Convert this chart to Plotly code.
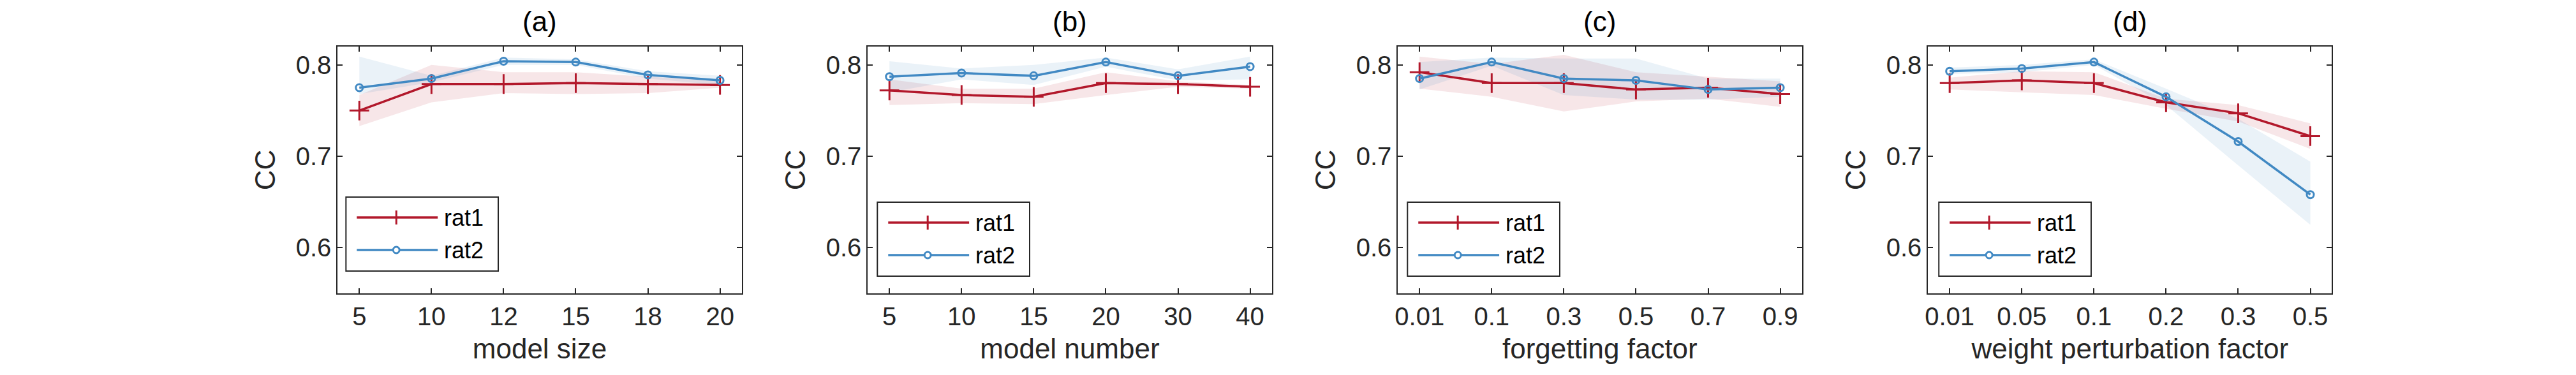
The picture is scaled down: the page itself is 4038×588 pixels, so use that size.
import plotly.graph_objects as go

# ---------------- data ----------------
titles = ["(a)", "(b)", "(c)", "(d)"]
xlabels = ["model size", "model number", "forgetting factor", "weight perturbation factor"]
series_names = ["rat1", "rat2"]

cats_a = ["5", "10", "12", "15", "18", "20"]
cats_b = ["5", "10", "15", "20", "30", "40"]
cats_c = ["0.01", "0.1", "0.3", "0.5", "0.7", "0.9"]
cats_d = ["0.01", "0.05", "0.1", "0.2", "0.3", "0.5"]

rat1_a = [0.750, 0.779, 0.779, 0.780, 0.779, 0.778]
rat1_a_hi = [0.767, 0.800, 0.792, 0.792, 0.787, 0.783]
rat1_a_lo = [0.733, 0.759, 0.769, 0.768, 0.769, 0.775]
rat2_a = [0.775, 0.785, 0.804, 0.803, 0.789, 0.783]
rat2_a_hi = [0.809, 0.788, 0.808, 0.806, 0.793, 0.788]
rat2_a_lo = [0.768, 0.781, 0.800, 0.800, 0.785, 0.778]

rat1_b = [0.772, 0.767, 0.765, 0.780, 0.779, 0.776]
rat1_b_hi = [0.784, 0.774, 0.774, 0.792, 0.782, 0.778]
rat1_b_lo = [0.756, 0.758, 0.757, 0.767, 0.776, 0.774]
rat2_b = [0.787, 0.791, 0.788, 0.803, 0.788, 0.798]
rat2_b_hi = [0.804, 0.796, 0.800, 0.808, 0.795, 0.809]
rat2_b_lo = [0.770, 0.784, 0.778, 0.798, 0.783, 0.784]

rat1_c = [0.792, 0.780, 0.780, 0.773, 0.775, 0.768]
rat1_c_hi = [0.809, 0.801, 0.811, 0.792, 0.787, 0.782]
rat1_c_lo = [0.774, 0.765, 0.749, 0.760, 0.763, 0.754]
rat2_c = [0.785, 0.803, 0.785, 0.783, 0.773, 0.775]
rat2_c_hi = [0.803, 0.808, 0.807, 0.807, 0.785, 0.785]
rat2_c_lo = [0.773, 0.799, 0.767, 0.762, 0.762, 0.765]

rat1_d = [0.780, 0.783, 0.780, 0.759, 0.747, 0.722]
rat1_d_hi = [0.786, 0.793, 0.792, 0.763, 0.756, 0.736]
rat1_d_lo = [0.773, 0.770, 0.767, 0.752, 0.738, 0.708]
rat2_d = [0.793, 0.796, 0.803, 0.765, 0.716, 0.658]
rat2_d_hi = [0.797, 0.800, 0.806, 0.774, 0.741, 0.694]
rat2_d_lo = [0.790, 0.792, 0.800, 0.756, 0.690, 0.625]

y_ticks = [0.6, 0.7, 0.8]
y_ticktext = ["0.6", "0.7", "0.8"]
y_range = [0.55, 0.82]

panels = [
    (cats_a, rat1_a, rat1_a_hi, rat1_a_lo, rat2_a, rat2_a_hi, rat2_a_lo),
    (cats_b, rat1_b, rat1_b_hi, rat1_b_lo, rat2_b, rat2_b_hi, rat2_b_lo),
    (cats_c, rat1_c, rat1_c_hi, rat1_c_lo, rat2_c, rat2_c_hi, rat2_c_lo),
    (cats_d, rat1_d, rat1_d_hi, rat1_d_lo, rat2_d, rat2_d_hi, rat2_d_lo),
]

# ---------------- style / layout ----------------
W, H = 4038, 588
FONT = "Liberation Sans, Arial, Helvetica, sans-serif"
RED = "#B2182B"
BLUE = "#4189C3"
RED_FILL = "rgba(178,24,43,0.11)"
BLUE_FILL = "rgba(65,137,195,0.11)"
AX = "#262626"

ax_left = [525, 1357, 2189, 3021]
ax_w = 634
ax_top, ax_bot = 73, 460
# legend box geometry (pixels)
leg_top = [309, 317, 317, 317]
leg_dx = [13, 15, 15, 17]
leg_w, leg_h = 239, 116


def px(x):
    return x / W


def py(y):
    return (H - y) / H


fig = go.Figure()
annotations = []
shapes = []
layout = dict(
    width=W, height=H,
    margin=dict(l=0, r=0, t=0, b=0),
    paper_bgcolor="white", plot_bgcolor="white",
    font=dict(family=FONT, size=40, color=AX),
    showlegend=False,
)

for i, (cats, r1, r1h, r1l, r2, r2h, r2l) in enumerate(panels):
    n = "" if i == 0 else str(i + 1)
    xa, ya = "x" + n, "y" + n
    # shaded bands
    for hi, lo, col in ((r1h, r1l, RED_FILL), (r2h, r2l, BLUE_FILL)):
        fig.add_trace(go.Scatter(
            x=list(cats) + list(cats)[::-1], y=list(hi) + list(lo)[::-1],
            fill="toself", fillcolor=col, line=dict(width=0),
            mode="lines", showlegend=False, hoverinfo="skip",
            xaxis=xa, yaxis=ya))
    fig.add_trace(go.Scatter(
        x=cats, y=r1, name=series_names[0], mode="lines+markers",
        line=dict(color=RED, width=3.5),
        marker=dict(symbol="cross-thin-open", size=22, line=dict(color=RED, width=3)),
        xaxis=xa, yaxis=ya))
    fig.add_trace(go.Scatter(
        x=cats, y=r2, name=series_names[1], mode="lines+markers",
        line=dict(color=BLUE, width=3.5),
        marker=dict(symbol="circle-open", size=11, line=dict(color=BLUE, width=3)),
        xaxis=xa, yaxis=ya))

    L = ax_left[i]
    layout["xaxis" + n] = dict(
        domain=[px(L), px(L + ax_w)], anchor=ya, type="category",
        range=[-0.3, 5.3], categoryorder="array", categoryarray=cats,
        showline=True, linecolor=AX, linewidth=2, mirror="ticks",
        ticks="inside", ticklen=8, tickwidth=2, tickcolor=AX,
        showgrid=False, zeroline=False,
        tickfont=dict(size=40, color=AX),
        title=dict(text=xlabels[i], font=dict(size=44, color=AX), standoff=14),
    )
    layout["yaxis" + n] = dict(
        domain=[py(ax_bot), py(ax_top)], anchor=xa,
        range=y_range, tickvals=y_ticks, ticktext=y_ticktext,
        showline=True, linecolor=AX, linewidth=2, mirror="ticks",
        ticks="inside", ticklen=8, tickwidth=2, tickcolor=AX,
        showgrid=False, zeroline=False,
        tickfont=dict(size=40, color=AX),
        title=dict(text="CC", font=dict(size=44, color=AX), standoff=18),
    )
    annotations.append(dict(
        text=titles[i], x=px(L + ax_w / 2), y=py(34),
        xref="paper", yref="paper", showarrow=False,
        xanchor="center", yanchor="middle",
        font=dict(size=44, color="black")))

    # ---- legend box (drawn in paper space) ----
    bx0 = L + leg_dx[i]
    by0 = leg_top[i]
    shapes.append(dict(type="rect", xref="paper", yref="paper",
                       x0=px(bx0), x1=px(bx0 + leg_w), y0=py(by0), y1=py(by0 + leg_h),
                       line=dict(color=AX, width=2), fillcolor="white", layer="above"))
    for k, (col, name) in enumerate(((RED, series_names[0]), (BLUE, series_names[1]))):
        yy = by0 + 32 + 51 * k
        shapes.append(dict(type="line", xref="paper", yref="paper",
                           x0=px(bx0 + 17), x1=px(bx0 + 144), y0=py(yy), y1=py(yy),
                           line=dict(color=col, width=3.5), layer="above"))
        mx = bx0 + 79
        if k == 0:
            shapes.append(dict(type="line", xref="paper", yref="paper",
                               x0=px(mx), x1=px(mx), y0=py(yy - 11), y1=py(yy + 11),
                               line=dict(color=col, width=3), layer="above"))
        else:
            shapes.append(dict(type="circle", xref="paper", yref="paper",
                               x0=px(mx - 5), x1=px(mx + 5), y0=py(yy - 5), y1=py(yy + 5),
                               line=dict(color=col, width=3), fillcolor="white",
                               layer="above"))
        annotations.append(dict(
            text=name, x=px(bx0 + 152), y=py(yy),
            xref="paper", yref="paper", showarrow=False,
            xanchor="left", yanchor="middle",
            font=dict(size=36, color="black")))

layout["annotations"] = annotations
layout["shapes"] = shapes
fig.update_layout(**layout)
fig.write_html("out.html")
